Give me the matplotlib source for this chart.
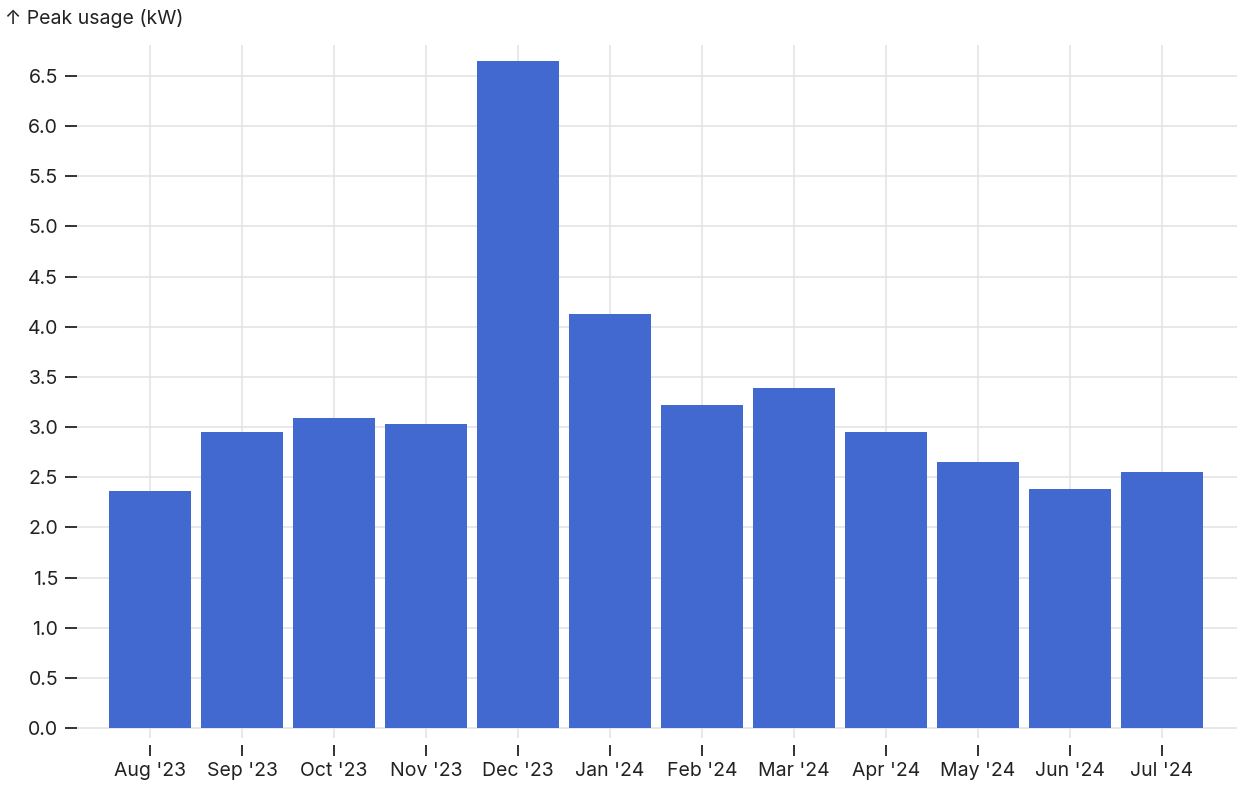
import matplotlib
matplotlib.use("Agg")
import matplotlib.pyplot as plt
import numpy as np

months = ["Aug '23", "Sep '23", "Oct '23", "Nov '23", "Dec '23", "Jan '24",
          "Feb '24", "Mar '24", "Apr '24", "May '24", "Jun '24", "Jul '24"]
peak_kw = [2.36, 2.95, 3.09, 3.03, 6.65, 4.13, 3.22, 3.39, 2.95, 2.65, 2.38, 2.55]
y_ticks = [0.0, 0.5, 1.0, 1.5, 2.0, 2.5, 3.0, 3.5, 4.0, 4.5, 5.0, 5.5, 6.0, 6.5]

plt.rcParams['font.family'] = ['Inter', 'DejaVu Sans']
TXT = '#222222'
GRID = '#e2e2e2'
BAR = '#4269d0'
FS = 14

W, H = 1252, 792
fig = plt.figure(figsize=(W / 100, H / 100), dpi=100)
ax = fig.add_axes([77 / W, (H - 745) / H, (1237 - 77) / W, (745 - 45) / H])

x = np.arange(len(months))
ax.set_xlim(-0.793, 11.815)
ax.set_ylim(-0.1695, 6.809)

# grid
ax.set_yticks(y_ticks)
ax.yaxis.grid(True, color=GRID, linewidth=1.1, zorder=0)
ax.vlines(x, -0.1, 6.809, color=GRID, linewidth=1.1, zorder=0)
ax.set_axisbelow(True)

ax.bar(x, peak_kw, width=0.89, color=BAR, zorder=2)

for s in ax.spines.values():
    s.set_visible(False)

ax.set_yticklabels([f"{v:.1f}" for v in y_ticks])
ax.set_xticks(x)
ax.set_xticklabels(months)
ax.tick_params(axis='y', direction='out', length=8.6, width=1.3, color=TXT,
               labelcolor=TXT, labelsize=FS, pad=5)
ax.tick_params(axis='x', direction='out', length=8.2, width=1.3, color=TXT,
               labelcolor=TXT, labelsize=FS, pad=4)

fig.text(5 / W, 1 - 18 / H, "↑ Peak usage (kW)", ha='left', va='center',
         fontsize=FS, color=TXT)

fig.savefig("out.png", dpi=100, facecolor='white')
